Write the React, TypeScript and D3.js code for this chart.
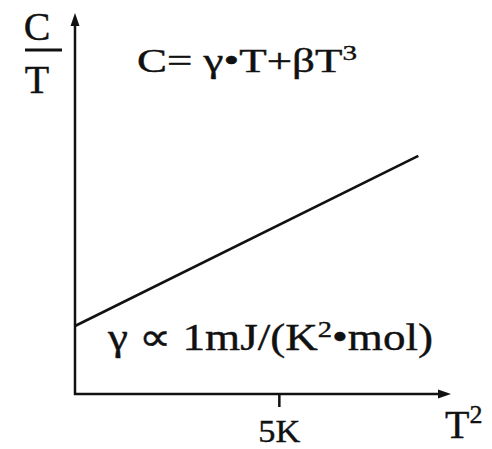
import React from "react";
import * as d3 from "d3";

// Specific heat plot: C/T against T², a straight line whose intercept is γ
const lineT2 = [0, 8.4];
const lineCoverT = [1, 3.5];
const xTicks = [5];
const xTickLabels = ["5K"];

const W = 492;
const H = 449;
const FONT = "'Liberation Serif', 'Times New Roman', serif";
const INK = "#111";

export default function App() {
  const x = d3.scaleLinear().domain([0, 9.2]).range([75, 451]);
  const y = d3.scaleLinear().domain([0, 5.6]).range([394, 13]);

  const line = d3
    .line<number>()
    .x((_, i) => x(lineT2[i]))
    .y((d) => y(d));

  const x0 = x(0);
  const y0 = y(0);
  const xEnd = x.range()[1];
  const yEnd = y.range()[1];

  const textStyle = { fontFamily: FONT, fill: INK, stroke: INK, strokeWidth: 0.4 };

  return (
    <svg
      width={W}
      height={H}
      style={{ position: "absolute", left: 0, top: 0, background: "#fff" }}
    >
      {/* axes with arrowheads */}
      <line x1={x0} y1={y0 + 1} x2={x0} y2={yEnd + 8} stroke={INK} strokeWidth={2.5} />
      <path d={`M${x0},${yEnd} L${x0 - 4.5},${yEnd + 13} L${x0 + 4.5},${yEnd + 13} Z`} fill={INK} />
      <line x1={x0 - 1} y1={y0} x2={xEnd - 8} y2={y0} stroke={INK} strokeWidth={2.5} />
      <path d={`M${xEnd},${y0} L${xEnd - 13},${y0 - 4.5} L${xEnd - 13},${y0 + 4.5} Z`} fill={INK} />

      {/* x tick */}
      {xTicks.map((t, i) => (
        <g key={t}>
          <line x1={x(t)} y1={y0} x2={x(t)} y2={y0 + 13} stroke={INK} strokeWidth={2.5} />
          <text
            x={x(t) - 21}
            y={442}
            fontSize={32}
            style={textStyle}
            textLength={42}
            lengthAdjust="spacingAndGlyphs"
          >
            {xTickLabels[i]}
          </text>
        </g>
      ))}

      {/* data line */}
      <path d={line(lineCoverT) ?? ""} fill="none" stroke={INK} strokeWidth={2.6} />

      {/* y-axis label C/T */}
      <text x={37} y={40} textAnchor="middle" fontSize={40} style={textStyle}>C</text>
      <line x1={25} y1={50} x2={62} y2={50} stroke={INK} strokeWidth={3} />
      <text x={37} y={93} textAnchor="middle" fontSize={40} style={textStyle}>T</text>

      {/* x-axis label T² */}
      <text x={445} y={438} fontSize={40} style={textStyle}>
        T<tspan fontSize={26} dy={-15}>2</tspan>
      </text>

      {/* formula */}
      <text
        x={137}
        y={72}
        fontSize={34}
        style={textStyle}
        textLength={220}
        lengthAdjust="spacingAndGlyphs"
      >
        C= γ•T+βT<tspan fontSize={22} dy={-12}>3</tspan>
      </text>

      {/* intercept annotation */}
      <text
        x={108}
        y={350}
        fontSize={38}
        style={textStyle}
        textLength={325}
        lengthAdjust="spacingAndGlyphs"
      >
        γ ∝ 1mJ/(K<tspan fontSize={24} dy={-13}>2</tspan>
        <tspan dy={13}>•mol)</tspan>
      </text>
    </svg>
  );
}
